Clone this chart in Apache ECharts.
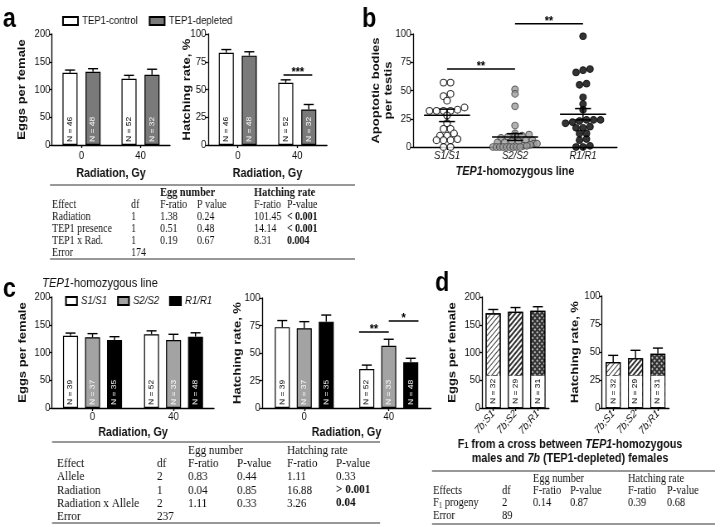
<!DOCTYPE html>
<html>
<head>
<meta charset="utf-8">
<script src="https://cdn.jsdelivr.net/npm/echarts@6/dist/echarts.min.js"></script>
<style>
html, body { margin:0; padding:0; background:#fff; overflow:hidden; }
#wrap { width:720px; height:527px; overflow:hidden; }
#chart { width:868px; height:527px; transform:scaleX(0.829493); transform-origin:0 0; }
</style>
</head>
<body>
<div id="wrap"><div id="chart"></div></div>
<script>
// ================= DATA =================
// Panel a
const radiationDoses = ['0', '40'];
const aGroups = ['TEP1-control', 'TEP1-depleted'];
const aEggsControl = [130, 119.5];
const aEggsControlSem = [5, 6];
const aEggsDepleted = [132, 126.5];
const aEggsDepletedSem = [5.5, 10];
const aHatchControl = [83, 56];
const aHatchControlSem = [3, 2.7];
const aHatchDepleted = [80.5, 32];
const aHatchDepletedSem = [3.5, 4.5];
const aNControl = [46, 52];
const aNDepleted = [48, 32];
const aHatchSig = [[1, -0.1, 1.15, 63, '***']];   // [dose, bar from, bar to, height, stars]

// Panel b
const bLines = ['S1/S1', 'S2/S2', 'R1/R1'];
const bS1 = [57, 57, 47, 45, 41, 35, 33, 32, 32, 32, 32, 28, 21, 16, 16, 12, 10, 10, 7, 6, 6, 6, 0, 0];
const bS2 = [51, 47, 36, 19, 12, 11, 10, 10, 9, 8, 6, 6, 5, 5, 4, 4, 3, 3, 2, 1, 1, 0, 0, 0, 0, 0, 0, 0, 0, 0];
const bR1 = [98, 69, 68, 66, 56, 55, 44, 38, 33, 24, 24, 24, 23, 22, 21, 18, 17, 17, 12, 12, 7, 6, 1, 0, 0];
const bMean = [28, 8.8, 29];
const bSem = [5.5, 3, 5];
const bSig = [[0, 1, 69, '**'], [1, 2, 109, '**']];

// Panel c
const cLines = ['S1/S1', 'S2/S2', 'R1/R1'];
const cEggsS1 = [130, 133];
const cEggsS1Sem = [5, 6];
const cEggsS2 = [127.5, 122.5];
const cEggsS2Sem = [6.5, 10.3];
const cEggsR1 = [122.5, 128.5];
const cEggsR1Sem = [6, 7];
const cHatchS1 = [73.5, 35.5];
const cHatchS1Sem = [6, 3.5];
const cHatchS2 = [72.5, 56.5];
const cHatchS2Sem = [6, 6];
const cHatchR1 = [78.5, 41.5];
const cHatchR1Sem = [6, 3.7];
const cNS1 = [39, 52];
const cNS2 = [37, 33];
const cNR1 = [35, 48];
const cHatchSig = [[1, -0.35, 1, 69, '**'], [1, 1, 2.35, 79, '*']];

// Panel d
const dCrosses = ['7b;S1', '7b;S2', '7b;R1'];
const dEggs = [170.5, 173.5, 175];
const dEggsSem = [7, 7.5, 7.5];
const dHatch = [41, 44.5, 48.5];
const dHatchSem = [6, 7, 5];
const dN = [32, 29, 31];

// Tables
const tableAGroups = ['Egg number', 'Hatching rate'];
const tableAHeader = ['Effect', 'df', 'F-ratio', 'P value', 'F-ratio', 'P-value'];
const tableARows = [
  ['Radiation', '1', '1.38', '0.24', '101.45', '< 0.001'],
  ['TEP1 presence', '1', '0.51', '0.48', '14.14', '< 0.001'],
  ['TEP1 x Rad.', '1', '0.19', '0.67', '8.31', '0.004'],
  ['Error', '174', '', '', '', '']
];
const tableCGroups = ['Egg number', 'Hatching rate'];
const tableCHeader = ['Effect', 'df', 'F-ratio', 'P-value', 'F-ratio', 'P-value'];
const tableCRows = [
  ['Allele', '2', '0.83', '0.44', '1.11', '0.33'],
  ['Radiation', '1', '0.04', '0.85', '16.88', '> 0.001'],
  ['Radiation x Allele', '2', '1.11', '0.33', '3.26', '0.04'],
  ['Error', '237', '', '', '', '']
];
const tableDGroups = ['Egg number', 'Hatching rate'];
const tableDHeader = ['Effects', 'df', 'F-ratio', 'P-value', 'F-ratio', 'P-value'];
const tableDRows = [
  ['{n|F}{s|1}{n| progeny}', '2', '0.14', '0.87', '0.39', '0.68'],
  ['Error', '89', '', '', '', '']
];

// ================= LAYOUT / STYLE =================
const SX = 720 / 868;
const X = v => v / SX;
const FONT = "'Liberation Sans', Arial, sans-serif";
const SERIF = "'Liberation Serif', 'Times New Roman', serif";
const INK = '#111';

const grids = [
  { left: X(52), top: 34, width: X(118), height: 111 },   // a eggs
  { left: X(208), top: 34, width: X(119), height: 111 },  // a hatch
  { left: X(413), top: 34, width: X(204), height: 113 },  // b
  { left: X(52), top: 297, width: X(162), height: 111 },  // c eggs
  { left: X(262), top: 298, width: X(169), height: 110 }, // c hatch
  { left: X(482), top: 297, width: X(67), height: 111 },  // d eggs
  { left: X(602), top: 296, width: X(67), height: 112 }   // d hatch
].map(g => Object.assign({ outerBoundsMode: 'none', containLabel: false }, g));

function yAxisCfg(grid, max, interval, name, gap, extraName) {
  return {
    type: 'value', gridIndex: grid, min: 0, max: max, interval: interval,
    name: name, nameLocation: 'middle', nameGap: gap, nameRotate: 90, nameMoveOverlap: false,
    nameTextStyle: Object.assign({ fontFamily: FONT, fontWeight: 'bold', fontSize: 13, color: INK }, extraName || {}),
    axisLine: { show: true, lineStyle: { color: '#000', width: 1.3 } },
    axisTick: { show: true, length: 3, lineStyle: { color: '#000', width: 1.3 } },
    axisLabel: { fontFamily: FONT, fontSize: 11.5, color: INK, margin: 2 },
    splitLine: { show: false }
  };
}
function xAxisCfg(grid, cats, name, gap, extra) {
  return Object.assign({
    type: 'category', gridIndex: grid, data: cats,
    name: name, nameLocation: 'middle', nameGap: gap, nameMoveOverlap: false,
    nameTextStyle: { fontFamily: FONT, fontWeight: 'bold', fontSize: 13, color: INK },
    axisLine: { show: true, lineStyle: { color: '#000', width: 1.3 } },
    axisTick: { show: true, alignWithLabel: true, length: 3, lineStyle: { color: '#000', width: 1.3 } },
    axisLabel: { fontFamily: FONT, fontSize: 11.5, color: INK, margin: 4 },
    splitLine: { show: false }
  }, extra || {});
}

function nLabel(nArr, color) {
  return {
    show: true, position: 'insideBottom', distance: 3, rotate: 90, align: 'left', verticalAlign: 'middle',
    formatter: p => 'N = ' + nArr[p.dataIndex], fontFamily: FONT, fontSize: 8.5, color: color
  };
}
function barSeries(name, axis, values, nArr, fill, labelColor, bwRef, gapRef) {
  return {
    type: 'bar', name: name, xAxisIndex: axis, yAxisIndex: axis, data: values,
    barWidth: X(bwRef), barGap: (gapRef / bwRef * 100) + '%',
    itemStyle: { color: fill, borderColor: '#000', borderWidth: 1.2 },
    label: nLabel(nArr, labelColor), silent: true, z: 2
  };
}
function errSeries(axis, means, sems, pos, n, bwRef, gapRef) {
  const step = X(bwRef + gapRef);
  return {
    type: 'custom', xAxisIndex: axis, yAxisIndex: axis, z: 4, silent: true,
    encode: { x: 0, y: 1 },
    data: means.map((m, i) => [i, m, sems[i]]),
    renderItem: (params, api) => {
      const b = api.coord([api.value(0), api.value(1)]);
      const t = api.coord([api.value(0), api.value(1) + api.value(2)]);
      const x = b[0] + (pos - (n - 1) / 2) * step;
      const cap = X(5);
      const st = { stroke: '#000', lineWidth: 1.4 };
      return { type: 'group', children: [
        { type: 'line', shape: { x1: x, y1: b[1], x2: x, y2: t[1] }, style: st },
        { type: 'line', shape: { x1: x - cap, y1: t[1], x2: x + cap, y2: t[1] }, style: st }
      ] };
    }
  };
}
function starText(x, y, txt) {
  return { type: 'text', x: x, y: y - 2.5, style: { text: txt, fontFamily: FONT, fontWeight: 'bold', fontSize: 13, fill: '#000',
    textAlign: 'center', textVerticalAlign: 'middle', align: 'center', verticalAlign: 'middle' } };
}
function sigSeries(axis, sigs, n, bwRef, gapRef) {
  const step = X(bwRef + gapRef);
  return {
    type: 'custom', xAxisIndex: axis, yAxisIndex: axis, z: 5, silent: true, clip: false,
    encode: { x: 0, y: 1 },
    data: sigs.map(s => [s[0], s[3], s[1], s[2]]),
    renderItem: (params, api) => {
      const c = api.coord([api.value(0), api.value(1)]);
      const x1 = c[0] + (api.value(2) - (n - 1) / 2) * step;
      const x2 = c[0] + (api.value(3) - (n - 1) / 2) * step;
      return { type: 'group', children: [
        { type: 'line', shape: { x1: x1, y1: c[1], x2: x2, y2: c[1] }, style: { stroke: '#000', lineWidth: 1.5 } },
        starText((x1 + x2) / 2, c[1], sigs[params.dataIndex][4])
      ] };
    }
  };
}

// ---- beeswarm offsets for panel b (derived from values) ----
const bPxPerUnit = 113 / 100;
function swarm(values, rowPx, stepPx, maxSpan) {
  const idx = values.map((v, i) => i).sort((a, b) => values[a] - values[b]);
  const off = new Array(values.length).fill(0);
  let row = [], rowStart = null;
  const flush = () => {
    const n = row.length;
    const step = n > 1 ? Math.min(stepPx, maxSpan / (n - 1)) : 0;
    row.forEach((k, j) => { off[k] = (j - (n - 1) / 2) * step; });
    row = [];
  };
  idx.forEach(k => {
    const py = values[k] * bPxPerUnit;
    if (rowStart === null || py - rowStart > rowPx) { flush(); rowStart = py; }
    row.push(k);
  });
  flush();
  return off;
}
function scatterSeries(name, cat, values, style) {
  const off = swarm(values, 3.5, X(7), X(44));
  return {
    type: 'scatter', name: name, xAxisIndex: 2, yAxisIndex: 2, z: 3, silent: true,
    symbol: 'circle', symbolSize: [X(6.6), 6.8],
    itemStyle: style,
    data: values.map((v, i) => ({ value: [cat, v], symbolOffset: [off[i], 0] }))
  };
}
const meanSemSeries = {
  type: 'custom', xAxisIndex: 2, yAxisIndex: 2, z: 6, silent: true, encode: { x: 0, y: 1 },
  data: bMean.map((m, i) => [i, m, bSem[i]]),
  renderItem: (params, api) => {
    const m = api.coord([api.value(0), api.value(1)]);
    const hi = api.coord([api.value(0), api.value(1) + api.value(2)]);
    const lo = api.coord([api.value(0), api.value(1) - api.value(2)]);
    const st = { stroke: '#000', lineWidth: 1.5 };
    const hw = X(23), cw = X(8);
    return { type: 'group', children: [
      { type: 'line', shape: { x1: m[0] - hw, y1: m[1], x2: m[0] + hw, y2: m[1] }, style: st },
      { type: 'line', shape: { x1: m[0], y1: lo[1], x2: m[0], y2: hi[1] }, style: st },
      { type: 'line', shape: { x1: m[0] - cw, y1: hi[1], x2: m[0] + cw, y2: hi[1] }, style: st },
      { type: 'line', shape: { x1: m[0] - cw, y1: lo[1], x2: m[0] + cw, y2: lo[1] }, style: st }
    ] };
  }
};
const bSigSeries = {
  type: 'custom', xAxisIndex: 2, yAxisIndex: 2, z: 6, silent: true, clip: false, encode: { x: 0, y: 1 },
  data: bSig.map(s => [s[0], s[2], s[1]]),
  renderItem: (params, api) => {
    const p1 = api.coord([api.value(0), api.value(1)]);
    const p2 = api.coord([api.value(2), api.value(1)]);
    return { type: 'group', children: [
      { type: 'line', shape: { x1: p1[0], y1: p1[1], x2: p2[0], y2: p2[1] }, style: { stroke: '#000', lineWidth: 1.5 } },
      starText((p1[0] + p2[0]) / 2, p1[1], bSig[params.dataIndex][3])
    ] };
  }
};

// ---- panel d hatched bars ----
const dItemStyles = [
  { color: '#fff', borderColor: '#000', borderWidth: 1.2,
    decal: { symbol: 'rect', symbolSize: 1, dashArrayX: [1, 0], dashArrayY: [1, 2.5], rotation: -Math.PI / 4, color: '#444' } },
  { color: '#fff', borderColor: '#000', borderWidth: 1.2,
    decal: { symbol: 'rect', symbolSize: 1, dashArrayX: [1, 0], dashArrayY: [1.6, 1.4], rotation: -Math.PI / 4, color: '#333' } },
  { color: '#333', borderColor: '#000', borderWidth: 1.2,
    decal: { symbol: 'rect', symbolSize: 1, dashArrayX: [1.5, 1.5], dashArrayY: [1.5, 1.5], rotation: Math.PI / 4, color: '#bbb' } }
];
function dBarSeries(axis, values) {
  return {
    type: 'bar', xAxisIndex: axis, yAxisIndex: axis, barWidth: X(15), silent: true, z: 2,
    data: values.map((v, i) => ({ value: v, itemStyle: dItemStyles[i] })),
    label: {
      show: true, position: 'insideBottom', distance: 1, rotate: 90, align: 'left', verticalAlign: 'middle',
      formatter: p => 'N = ' + dN[p.dataIndex], fontFamily: FONT, fontSize: 8.5, color: '#000', lineHeight: 10,
      backgroundColor: '#fff', borderColor: '#222', borderWidth: 0.8, borderType: 'dashed', padding: [3, 3, 3, 3]
    }
  };
}

// ---- tables (graphic) ----
function tableGraphics(t, groups, header, rows, boldCells) {
  const out = [];
  const base = { fontFamily: SERIF, fontSize: t.fs, fill: '#111', textAlign: 'left', textVerticalAlign: 'middle', align: 'left', verticalAlign: 'middle' };
  const rich = {
    n: { fontFamily: SERIF, fontSize: t.fs, fill: '#111' },
    s: { fontFamily: SERIF, fontSize: t.fs * 0.65, fill: '#111', verticalAlign: 'bottom' }
  };
  const txt = (x, y, s, bold, fs) => ({ type: 'text', x: X(x), y: y, silent: true,
    style: Object.assign({}, base, { text: s, fontWeight: bold ? 'bold' : 'normal', fontSize: fs || t.fs, rich: rich }) });
  out.push({ type: 'line', silent: true, shape: { x1: X(t.x0), y1: t.top, x2: X(t.x1), y2: t.top }, style: { stroke: '#333', lineWidth: 1.2 } });
  out.push({ type: 'line', silent: true, shape: { x1: X(t.x0), y1: t.bottom, x2: X(t.x1), y2: t.bottom }, style: { stroke: '#333', lineWidth: 1.2 } });
  groups.forEach((g, i) => out.push(txt(t.groupCols[i], t.groupY, g, t.groupBold, t.gfs)));
  header.forEach((h, i) => out.push(txt(t.cols[i], t.headY, h, false)));
  rows.forEach((r, ri) => r.forEach((c, ci) => {
    if (c !== '') out.push(txt(t.cols[ci], t.rowY[ri], c, boldCells.some(b => b[0] === ri && b[1] === ci)));
  }));
  return out;
}
const TA = { x0: 50, x1: 355, top: 185, bottom: 259, cols: [52, 131, 160, 197, 254, 287], groupCols: [160, 254], groupY: 193, headY: 204.5, rowY: [216.5, 229, 241, 253], fs: 12, gfs: 12.5, groupBold: true };
const TC = { x0: 52, x1: 380, top: 442, bottom: 523, cols: [57, 157, 188, 237, 287, 336], groupCols: [188, 287], groupY: 450, headY: 463, rowY: [476, 490, 503, 516], fs: 13.5, groupBold: false };
const TD = { x0: 432, x1: 715, top: 471, bottom: 524, cols: [433, 502, 533, 570, 628, 667], groupCols: [533, 628], groupY: 479, headY: 491, rowY: [503, 516], fs: 12.5, groupBold: false };

function letter(x, y, s) {
  return { type: 'text', x: X(x), y: y, silent: true, style: { text: s, fontFamily: FONT, fontWeight: 'bold', fontSize: 28, fill: '#000',
    textAlign: 'left', textVerticalAlign: 'middle', align: 'left', verticalAlign: 'middle' } };
}
const titleRich = {
  n: { fontFamily: FONT, fontSize: 13.5, fill: '#111' },
  i: { fontFamily: FONT, fontSize: 13.5, fontStyle: 'italic', fill: '#111' },
  b: { fontFamily: FONT, fontSize: 13, fontWeight: 'bold', fill: '#111' },
  bi: { fontFamily: FONT, fontSize: 13, fontWeight: 'bold', fontStyle: 'italic', fill: '#111' },
  bs: { fontFamily: FONT, fontSize: 9, fontWeight: 'bold', fill: '#111', verticalAlign: 'bottom' }
};
function richText(x, y, s, align) {
  return { type: 'text', x: X(x), y: y, silent: true, style: { text: s, rich: titleRich, fontFamily: FONT, fontSize: 13,
    textAlign: align, textVerticalAlign: 'middle', align: align, verticalAlign: 'middle' } };
}

const graphics = []
  .concat([letter(3, 19, 'a'), letter(362, 19, 'b'), letter(3, 289, 'c'), letter(435, 283, 'd')])
  .concat([richText(42, 283, '{i|TEP1}{n|-homozygous line}', 'left')])
  .concat([richText(570, 444, '{b|F}{bs|1}{b| from a cross between }{bi|TEP1}{b|-homozygous}', 'center'),
           richText(570, 458, '{b|males and }{bi|7b}{b| (TEP1-depleted) females}', 'center')])
  .concat(tableGraphics(TA, tableAGroups, tableAHeader, tableARows, [[0, 5], [1, 5], [2, 5]]))
  .concat(tableGraphics(TC, tableCGroups, tableCHeader, tableCRows, [[1, 5], [2, 5]]))
  .concat(tableGraphics(TD, tableDGroups, tableDHeader, tableDRows, []));

const option = {
  animation: false,
  backgroundColor: '#fff',
  grid: grids,
  legend: [
    { data: aGroups, left: X(58), top: 10, itemWidth: X(15), itemHeight: 8, itemGap: X(11), icon: 'rect', selectedMode: false,
      textStyle: { fontFamily: FONT, fontSize: 11.5, color: INK } },
    { data: cLines, left: X(61), top: 290, itemWidth: X(11), itemHeight: 8, itemGap: X(10), icon: 'rect', selectedMode: false,
      textStyle: { fontFamily: FONT, fontSize: 11.5, fontStyle: 'italic', color: INK } }
  ],
  xAxis: [
    xAxisCfg(0, radiationDoses, 'Radiation, Gy', 22, { axisLabel: { fontFamily: FONT, fontSize: 11.5, color: INK, margin: 5 } }),
    xAxisCfg(1, radiationDoses, 'Radiation, Gy', 22, { axisLabel: { fontFamily: FONT, fontSize: 11.5, color: INK, margin: 5 } }),
    xAxisCfg(2, bLines, '{bi|TEP1}{b|-homozygous line}', 18, {
      nameTextStyle: { rich: { b: { fontFamily: FONT, fontWeight: 'bold', fontSize: 13, color: INK }, bi: { fontFamily: FONT, fontWeight: 'bold', fontStyle: 'italic', fontSize: 13, color: INK } } },
      axisLabel: { fontFamily: FONT, fontSize: 11.5, fontStyle: 'italic', color: INK, margin: 3 } }),
    xAxisCfg(3, radiationDoses, 'Radiation, Gy', 18, { axisLabel: { fontFamily: FONT, fontSize: 11.5, color: INK, margin: 3 } }),
    xAxisCfg(4, radiationDoses, 'Radiation, Gy', 18, { axisLabel: { fontFamily: FONT, fontSize: 11.5, color: INK, margin: 3 } }),
    xAxisCfg(5, dCrosses, '', 0, { axisLabel: { fontFamily: FONT, fontSize: 11, fontStyle: 'italic', color: INK, margin: 4, rotate: 45 } }),
    xAxisCfg(6, dCrosses, '', 0, { axisLabel: { fontFamily: FONT, fontSize: 11, fontStyle: 'italic', color: INK, margin: 4, rotate: 45 } })
  ],
  yAxis: [
    yAxisCfg(0, 200, 50, 'Eggs per female', 30),
    yAxisCfg(1, 100, 25, 'Hatching rate, %', 19),
    yAxisCfg(2, 100, 25, 'Apoptotic bodies\nper testis', 22, { lineHeight: 15 }),
    yAxisCfg(3, 200, 50, 'Eggs per female', 29),
    yAxisCfg(4, 100, 25, 'Hatching rate, %', 23),
    yAxisCfg(5, 200, 50, 'Eggs per female', 29),
    yAxisCfg(6, 100, 25, 'Hatching rate, %', 26)
  ],
  series: [
    // a eggs
    barSeries(aGroups[0], 0, aEggsControl, aNControl, '#fff', '#000', 15, 8),
    barSeries(aGroups[1], 0, aEggsDepleted, aNDepleted, '#7a7a7a', '#fff', 15, 8),
    errSeries(0, aEggsControl, aEggsControlSem, 0, 2, 15, 8),
    errSeries(0, aEggsDepleted, aEggsDepletedSem, 1, 2, 15, 8),
    // a hatch
    barSeries(aGroups[0], 1, aHatchControl, aNControl, '#fff', '#000', 15, 8),
    barSeries(aGroups[1], 1, aHatchDepleted, aNDepleted, '#7a7a7a', '#fff', 15, 8),
    errSeries(1, aHatchControl, aHatchControlSem, 0, 2, 15, 8),
    errSeries(1, aHatchDepleted, aHatchDepletedSem, 1, 2, 15, 8),
    sigSeries(1, aHatchSig, 2, 15, 8),
    // b
    scatterSeries('b ' + bLines[0], 0, bS1, { color: '#fff', borderColor: '#000', borderWidth: 1.2 }),
    scatterSeries('b ' + bLines[1], 1, bS2, { color: '#9c9c9c', borderColor: '#3a3a3a', borderWidth: 1 }),
    scatterSeries('b ' + bLines[2], 2, bR1, { color: '#000', borderColor: '#000', borderWidth: 1 }),
    meanSemSeries,
    bSigSeries,
    // c eggs
    barSeries(cLines[0], 3, cEggsS1, cNS1, '#fff', '#000', 15, 7),
    barSeries(cLines[1], 3, cEggsS2, cNS2, '#a3a3a3', '#fff', 15, 7),
    barSeries(cLines[2], 3, cEggsR1, cNR1, '#000', '#fff', 15, 7),
    errSeries(3, cEggsS1, cEggsS1Sem, 0, 3, 15, 7),
    errSeries(3, cEggsS2, cEggsS2Sem, 1, 3, 15, 7),
    errSeries(3, cEggsR1, cEggsR1Sem, 2, 3, 15, 7),
    // c hatch
    barSeries(cLines[0], 4, cHatchS1, cNS1, '#fff', '#000', 15, 7),
    barSeries(cLines[1], 4, cHatchS2, cNS2, '#a3a3a3', '#fff', 15, 7),
    barSeries(cLines[2], 4, cHatchR1, cNR1, '#000', '#fff', 15, 7),
    errSeries(4, cHatchS1, cHatchS1Sem, 0, 3, 15, 7),
    errSeries(4, cHatchS2, cHatchS2Sem, 1, 3, 15, 7),
    errSeries(4, cHatchR1, cHatchR1Sem, 2, 3, 15, 7),
    sigSeries(4, cHatchSig, 3, 15, 7),
    // d
    dBarSeries(5, dEggs),
    errSeries(5, dEggs, dEggsSem, 0, 1, 15, 0),
    dBarSeries(6, dHatch),
    errSeries(6, dHatch, dHatchSem, 0, 1, 15, 0)
  ],
  graphic: graphics
};

const chart = echarts.init(document.getElementById('chart'), null, { renderer: 'canvas' });
chart.setOption(option);
</script>
</body>
</html>
